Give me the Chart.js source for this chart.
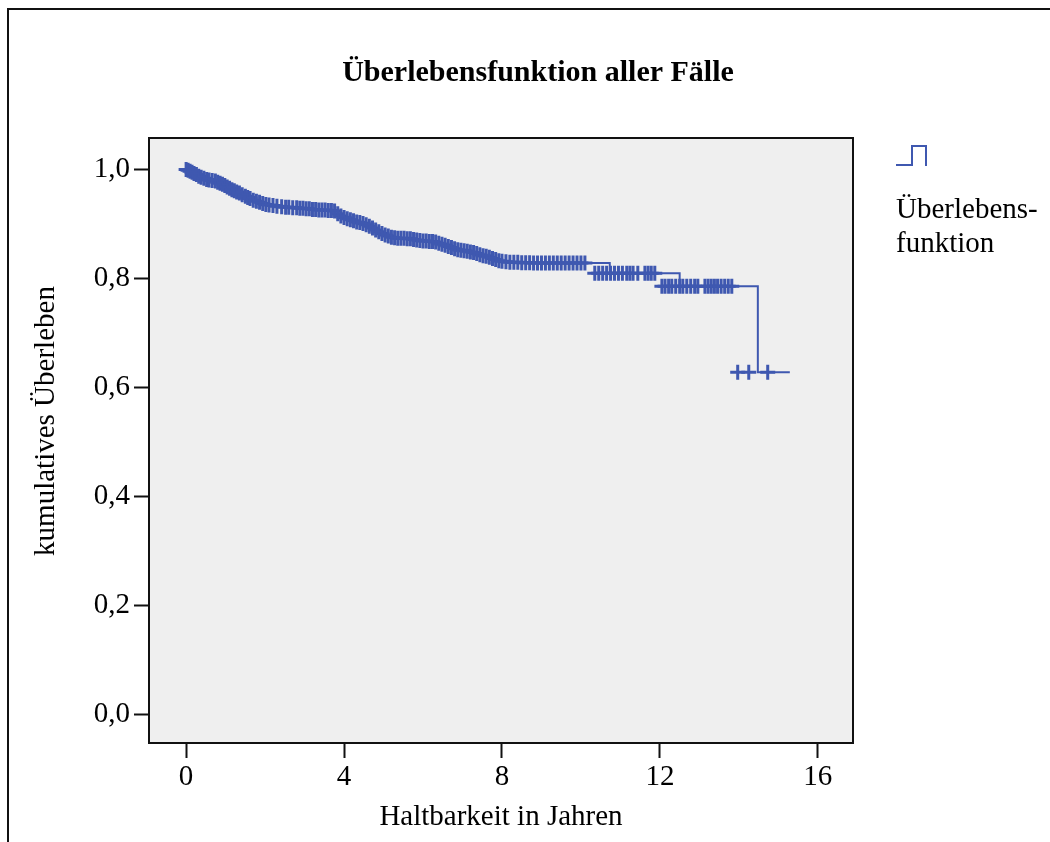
<!DOCTYPE html>
<html>
<head>
<meta charset="utf-8">
<title>Überlebensfunktion aller Fälle</title>
<script src="https://cdn.jsdelivr.net/npm/chart.js@4.4.0/dist/chart.umd.min.js"></script>
<style>
  html, body { margin: 0; padding: 0; background: #fff; }
  #wrap { width: 1050px; height: 842px; }
</style>
</head>
<body>
<div id="wrap"><canvas id="kmChart" width="1050" height="842"></canvas></div>
<script>
// tick positions
const xTicks = [0, 4, 8, 12, 16];
const yTicks = [0, 0.2, 0.4, 0.6, 0.8, 1.0];

// Kaplan-Meier step curve (time in years, cumulative survival after the step)
const eventTimes = [0, 0.1, 0.2, 0.32, 0.45, 0.58, 0.8, 0.92, 1.04, 1.16, 1.28, 1.42, 1.56, 1.7, 1.86,
  2.02, 2.2, 2.42, 2.7, 2.96, 3.2, 3.44, 3.68, 3.84, 3.92, 4.0, 4.16, 4.32, 4.48, 4.64, 4.72, 4.8,
  4.88, 4.96, 5.04, 5.2, 5.36, 5.6, 5.84, 6.0, 6.24, 6.4, 6.56, 6.72, 6.88, 7.04, 7.2, 7.36, 7.52,
  7.68, 7.84, 8.0, 8.2, 8.5, 8.8, 10.73, 12.5, 14.48, 15.29];
const survival = [0.999, 0.996, 0.992, 0.987, 0.983, 0.98, 0.976, 0.972, 0.967, 0.962, 0.958, 0.953, 0.948, 0.943, 0.939,
  0.935, 0.933, 0.931, 0.929, 0.928, 0.926, 0.925, 0.924, 0.918, 0.914, 0.911, 0.907, 0.903, 0.9, 0.895, 0.892, 0.888,
  0.885, 0.882, 0.879, 0.875, 0.873, 0.872, 0.87, 0.868, 0.867, 0.864, 0.86, 0.856, 0.852, 0.85, 0.848, 0.845, 0.841,
  0.838, 0.834, 0.831, 0.829, 0.828, 0.8275, 0.809, 0.785, 0.627, 0.627];

// censored cases (marked with +)
const censorTimes = [0, 0.05, 0.1, 0.15, 0.2, 0.26, 0.32, 0.38, 0.45, 0.52, 0.58, 0.66, 0.74, 0.8, 0.86, 0.92, 0.98,
  1.04, 1.1, 1.16, 1.22, 1.28, 1.35, 1.42, 1.5, 1.56, 1.62, 1.7, 1.78, 1.86, 1.94, 2.02, 2.1, 2.2, 2.3, 2.42,
  2.52, 2.6, 2.7, 2.8, 2.88, 2.96, 3.04, 3.12, 3.2, 3.28, 3.36, 3.44, 3.52, 3.6, 3.68, 3.76, 3.84, 3.92,
  4.0, 4.08, 4.16, 4.24, 4.32, 4.4, 4.48, 4.56, 4.64, 4.72, 4.8, 4.88, 4.96, 5.04, 5.12, 5.2, 5.28, 5.36,
  5.44, 5.52, 5.6, 5.68, 5.76, 5.84, 5.92, 6.0, 6.08, 6.16, 6.24, 6.32, 6.4, 6.48, 6.56, 6.64, 6.72, 6.8,
  6.88, 6.96, 7.04, 7.12, 7.2, 7.28, 7.36, 7.44, 7.52, 7.6, 7.68, 7.76, 7.84, 7.92, 8.0, 8.1, 8.2, 8.3,
  8.4, 8.5, 8.6, 8.7, 8.8, 8.9, 9.0, 9.1, 9.2, 9.3, 9.4, 9.5, 9.6, 9.7, 9.8, 9.9, 10.0, 10.1,
  10.35, 10.45, 10.55, 10.65, 10.75, 10.85, 10.95, 11.05, 11.16, 11.24, 11.32, 11.44, 11.62, 11.7, 11.78, 11.87,
  12.05, 12.13, 12.22, 12.3, 12.4, 12.5, 12.58, 12.68, 12.78, 12.88, 12.96, 13.14, 13.22, 13.3, 13.38, 13.46,
  13.55, 13.64, 13.73, 13.82, 13.97, 14.25, 14.73];
const censorSurv = [0.999, 0.998, 0.996, 0.994, 0.992, 0.99, 0.987, 0.985, 0.983, 0.981, 0.98, 0.979, 0.978, 0.976, 0.974, 0.972, 0.97,
  0.967, 0.965, 0.962, 0.96, 0.958, 0.956, 0.953, 0.95, 0.948, 0.946, 0.943, 0.941, 0.939, 0.937, 0.935, 0.934, 0.933, 0.932, 0.931,
  0.93, 0.93, 0.929, 0.929, 0.928, 0.928, 0.927, 0.927, 0.926, 0.926, 0.925, 0.925, 0.925, 0.924, 0.924, 0.923, 0.918, 0.914,
  0.911, 0.909, 0.907, 0.905, 0.903, 0.902, 0.9, 0.898, 0.895, 0.892, 0.888, 0.885, 0.882, 0.879, 0.877, 0.875, 0.874, 0.873,
  0.873, 0.873, 0.872, 0.872, 0.871, 0.87, 0.869, 0.868, 0.868, 0.867, 0.867, 0.866, 0.864, 0.862, 0.86, 0.858, 0.856, 0.854,
  0.852, 0.851, 0.85, 0.849, 0.848, 0.847, 0.845, 0.843, 0.841, 0.84, 0.838, 0.836, 0.834, 0.832, 0.831, 0.83, 0.829, 0.829,
  0.829, 0.828, 0.828, 0.828, 0.8275, 0.8275, 0.8275, 0.8275, 0.8275, 0.8275, 0.8275, 0.8275, 0.8275, 0.8275, 0.8275, 0.8275, 0.8275, 0.8275,
  0.809, 0.809, 0.809, 0.809, 0.809, 0.809, 0.809, 0.809, 0.809, 0.809, 0.809, 0.809, 0.809, 0.809, 0.809, 0.809,
  0.785, 0.785, 0.785, 0.785, 0.785, 0.785, 0.785, 0.785, 0.785, 0.785, 0.785, 0.785, 0.785, 0.785, 0.785, 0.785,
  0.785, 0.785, 0.785, 0.785, 0.627, 0.627, 0.627];

const seriesName = ['Überlebens-', 'funktion'];
const blue = '#3f58b0';
const serif = "'Liberation Serif', 'Times New Roman', serif";

// grey plot background, black box, outer frame, titles and legend
const decorations = {
    id: 'decorations',
    beforeDatasetsDraw(chart) {
        const { ctx, chartArea: a } = chart;
        ctx.save();
        ctx.fillStyle = '#efefef';
        ctx.fillRect(a.left, a.top, a.right - a.left, a.bottom - a.top);
        ctx.restore();
    },
    afterDraw(chart) {
        const { ctx, chartArea: a } = chart;
        ctx.save();
        ctx.strokeStyle = '#111';
        ctx.lineWidth = 2;
        ctx.strokeRect(a.left, a.top, a.right - a.left, a.bottom - a.top);

        // outer frame
        ctx.beginPath();
        ctx.moveTo(8, 842);
        ctx.lineTo(8, 9);
        ctx.lineTo(1050, 9);
        ctx.stroke();

        // title
        ctx.fillStyle = '#000';
        ctx.font = 'bold 30px ' + serif;
        ctx.textAlign = 'center';
        ctx.textBaseline = 'alphabetic';
        ctx.fillText('Überlebensfunktion aller Fälle', 538, 81);

        // y axis title
        ctx.save();
        ctx.translate(54, 421);
        ctx.rotate(-Math.PI / 2);
        ctx.font = '29px ' + serif;
        ctx.fillText('kumulatives Überleben', 0, 0);
        ctx.restore();

        // legend symbol
        ctx.strokeStyle = blue;
        ctx.lineWidth = 2;
        ctx.beginPath();
        ctx.moveTo(896, 165);
        ctx.lineTo(912, 165);
        ctx.lineTo(912, 146);
        ctx.lineTo(926, 146);
        ctx.lineTo(926, 166);
        ctx.stroke();

        ctx.font = '29px ' + serif;
        ctx.textAlign = 'left';
        ctx.fillText(seriesName[0], 896, 218);
        ctx.fillText(seriesName[1], 896, 252);
        ctx.restore();
    }
};

const stepPoints = eventTimes.map((t, i) => ({ x: t, y: survival[i] }));
const censorPoints = censorTimes.map((t, i) => ({ x: t, y: censorSurv[i] }));

const ctx = document.getElementById('kmChart').getContext('2d');
new Chart(ctx, {
    type: 'scatter',
    data: {
        datasets: [
            {
                type: 'line',
                label: 'Überlebensfunktion',
                data: stepPoints,
                stepped: 'before',
                borderColor: blue,
                borderWidth: 2,
                pointRadius: 0,
                fill: false
            },
            {
                label: 'zensiert',
                data: censorPoints,
                pointStyle: 'cross',
                pointRadius: 7.5,
                pointBorderWidth: 3,
                borderColor: blue,
                backgroundColor: blue
            }
        ]
    },
    options: {
        responsive: false,
        animation: false,
        layout: { padding: { left: 0, top: 138, right: 197, bottom: 0 } },
        plugins: {
            legend: { display: false },
            tooltip: { enabled: false }
        },
        scales: {
            x: {
                type: 'linear',
                min: -0.94,
                max: 16.89,
                afterBuildTicks: s => { s.ticks = xTicks.map(v => ({ value: v })); },
                afterFit: s => { s.height = 99; },
                ticks: { color: '#000', font: { family: serif, size: 29 }, padding: 2 },
                grid: { drawOnChartArea: false, tickLength: 15, tickWidth: 2, tickColor: '#111' },
                border: { display: false },
                title: {
                    display: true,
                    text: 'Haltbarkeit in Jahren',
                    color: '#000',
                    font: { family: serif, size: 29 },
                    padding: { top: 0, bottom: 7 }
                }
            },
            y: {
                type: 'linear',
                min: -0.053,
                max: 1.057,
                afterBuildTicks: s => { s.ticks = yTicks.map(v => ({ value: v })); },
                afterFit: s => { s.width = 149; },
                ticks: {
                    color: '#000',
                    font: { family: serif, size: 29 },
                    padding: 4,
                    callback: v => v.toFixed(1).replace('.', ',')
                },
                grid: { drawOnChartArea: false, tickLength: 15, tickWidth: 2, tickColor: '#111' },
                border: { display: false }
            }
        }
    },
    plugins: [decorations]
});
</script>
</body>
</html>
